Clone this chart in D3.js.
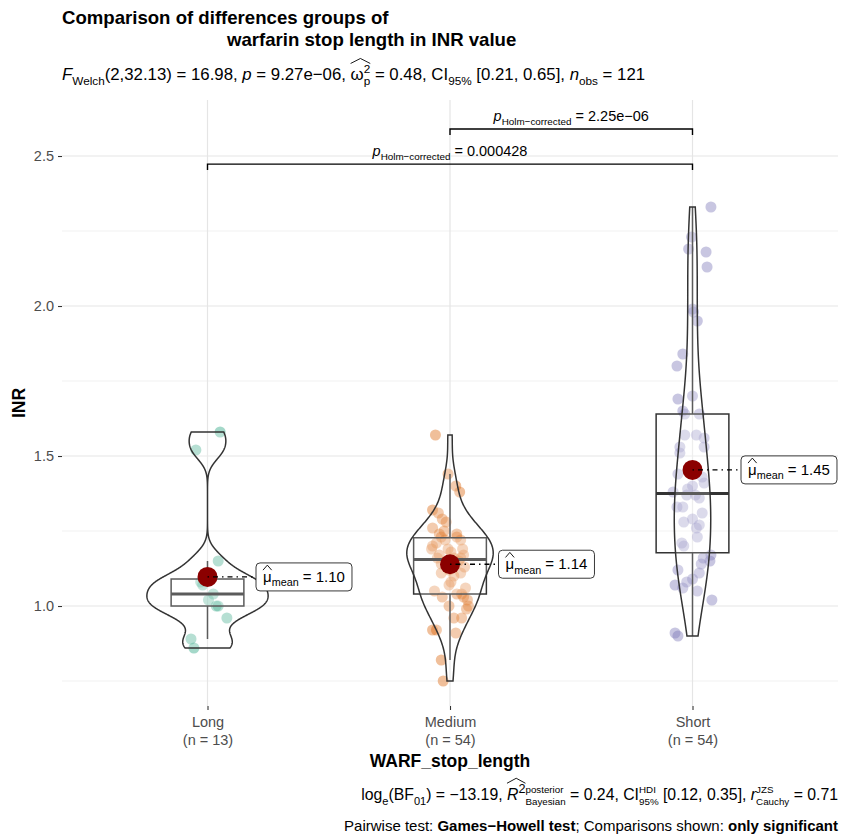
<!DOCTYPE html>
<html lang="en">
<head>
<meta charset="UTF-8">
<title>Comparison of differences groups of warfarin stop length in INR value</title>
<script src="https://d3js.org/d3.v7.min.js"></script>
<style>
  body { margin: 0; background: #fff; }
  svg text { font-family: "Liberation Sans", Arial, sans-serif; white-space: pre; }
</style>
</head>
<body>
<div id="chart"></div>
<script>
// ---- data ----
const groups = ["Long", "Medium", "Short"];
const groupN = [13, 54, 54];
const groupColors = ["#1B9E77", "#D95F02", "#7570B3"];

const inrLong = [1.58, 1.52, 1.15, 1.09, 1.08, 1.07, 1.04, 1.02, 1.00, 1.00, 0.96, 0.89, 0.86];
const jitterLong = [0.052, -0.048, 0.044, -0.008, -0.028, -0.02, 0.024, 0.004, 0.044, 0.036, 0.08, -0.068, -0.056];

const inrMedium = [1.57, 1.44, 1.40, 1.38, 1.32, 1.31, 1.29, 1.28, 1.26, 1.25, 1.24, 1.24, 1.23,
  1.23, 1.22, 1.22, 1.21, 1.20, 1.19, 1.19, 1.19, 1.18, 1.17, 1.17, 1.16, 1.16, 1.16,
  1.15, 1.15, 1.14, 1.13, 1.12, 1.11, 1.11, 1.10, 1.08, 1.07, 1.06, 1.05, 1.04,
  1.04, 1.03, 1.03, 1.02, 1.00, 1.00, 0.99, 0.96, 0.96, 0.92, 0.92, 0.91, 0.82, 0.75];
const jitterMedium = [-0.06, -0.008, 0.024, 0.04, -0.072, -0.048, -0.032, -0.016, -0.072, -0.024, 0.028, -0.044, 0.028,
  -0.036, 0.044, -0.02, -0.056, -0.072, -0.076, 0.052, -0.008, 0.004, 0.056, -0.044, -0.052, 0.044, 0.016,
  -0.012, 0.036, -0.036, 0.06, -0.004, -0.036, 0.044, 0.016, 0.004, -0.004, 0.064, -0.064, 0.028,
  0.048, -0.032, 0.056, 0.072, -0.004, 0.076, 0.068, 0.048, 0.016, -0.072, -0.056, 0.024, -0.036, -0.028];

const inrShort = [2.33, 2.23, 2.19, 2.18, 2.13, 1.99, 1.98, 1.95, 1.84, 1.80, 1.70, 1.69, 1.65,
  1.64, 1.64, 1.57, 1.57, 1.56, 1.53, 1.53, 1.51, 1.44, 1.43, 1.41, 1.40, 1.39, 1.38,
  1.37, 1.37, 1.36, 1.33, 1.33, 1.31, 1.29, 1.28, 1.27, 1.26, 1.23, 1.21, 1.20,
  1.17, 1.16, 1.15, 1.14, 1.12, 1.11, 1.09, 1.08, 1.07, 1.06, 1.05, 1.02, 0.91, 0.90];
const jitterShort = [0.076, -0.004, -0.016, 0.056, 0.06, 0, 0.004, 0.02, -0.04, -0.064, 0, -0.06, -0.04,
  0.028, -0.032, -0.032, 0.016, 0.048, -0.052, 0.048, -0.052, -0.06, 0.04, 0.048, 0, -0.02, -0.08,
  -0.024, 0.012, 0.028, -0.064, -0.04, 0.04, 0, -0.036, 0.028, 0.016, 0.02, -0.044, -0.036,
  0.076, 0.044, 0.072, 0.036, -0.06, 0.028, 0, -0.024, -0.072, -0.04, 0.02, 0.08, -0.072, -0.06];

const groupValues = [inrLong, inrMedium, inrShort];
const groupJitter = [jitterLong, jitterMedium, jitterShort];

const yTicks = [1.0, 1.5, 2.0, 2.5];
const yMinorTicks = [0.75, 1.25, 1.75, 2.25];

// pairwise comparisons (Games-Howell, Holm corrected)
const bracketFrom = ["Medium", "Long"];
const bracketTo = ["Short", "Short"];
const bracketY = [2.59, 2.473];
const bracketP = ["2.25e\u221206", "0.000428"];

// ---- layout ----
const width = 841, height = 837;
const margin = { top: 100, right: 3, bottom: 131, left: 62 };
const font = "'Liberation Sans', Arial, sans-serif";

const svg = d3.select("#chart").append("svg")
  .attr("width", width).attr("height", height)
  .style("background", "#fff");

const x = d3.scalePoint().domain(groups)
  .range([margin.left, width - margin.right]).padding(0.6);
const step = x.step();
const y = d3.scaleLinear().domain([0.6667, 2.6867])
  .range([height - margin.bottom, margin.top]);

// rich text: segments placed one after another, sub/sup shifted
function rich(parent, px, py, segs, size, anchor, fill) {
  const g = parent.append("g").attr("fill", fill || "#000");
  let cx = 0, held = 0;
  const hats = [];
  segs.forEach(s => {
    const small = s.sub || s.sup;
    const fs = size * (small ? (s.scale || 0.7) : 1);
    const dy = s.sub ? size * 0.3 : s.sup ? -size * 0.42 : 0;
    const t = g.append("text")
      .attr("x", cx).attr("y", dy)
      .attr("font-size", fs)
      .attr("font-weight", s.b ? "bold" : null)
      .attr("font-style", s.i ? "italic" : null)
      .text(s.t);
    const w = t.node().getComputedTextLength();
    if (s.hat) hats.push({ x0: cx, x1: cx + w, top: dy - fs * 0.72 });
    if (s.hold) { held = Math.max(held, w); }
    else { cx += Math.max(held, w); held = 0; }
  });
  if (hats.length) {
    const x0 = d3.min(hats, h => h.x0), x1 = d3.max(hats, h => h.x1);
    const top = d3.min(hats, h => h.top) - 2;
    g.append("path")
      .attr("d", `M${x0},${top + 1}L${(x0 + x1) / 2},${top - 4}L${x1},${top + 1}`)
      .attr("fill", "none").attr("stroke", fill || "#000").attr("stroke-width", 0.9);
  }
  const shift = anchor === "end" ? -cx : anchor === "middle" ? -cx / 2 : 0;
  g.attr("transform", `translate(${px + shift},${py})`);
  return { g, width: cx };
}

// ---- grid ----
const grid = svg.append("g");
grid.selectAll(".minor").data(yMinorTicks).join("line")
  .attr("x1", margin.left).attr("x2", width - margin.right)
  .attr("y1", d => y(d)).attr("y2", d => y(d))
  .attr("stroke", "#EDEDED").attr("stroke-width", 0.8);
grid.selectAll(".major").data(yTicks).join("line")
  .attr("x1", margin.left).attr("x2", width - margin.right)
  .attr("y1", d => y(d)).attr("y2", d => y(d))
  .attr("stroke", "#E5E5E5").attr("stroke-width", 1.2);
grid.selectAll(".vmajor").data(groups).join("line")
  .attr("x1", d => x(d)).attr("x2", d => x(d))
  .attr("y1", margin.top).attr("y2", height - margin.bottom)
  .attr("stroke", "#E5E5E5").attr("stroke-width", 1.2);

// ---- axes ----
const yAxis = svg.append("g")
  .attr("transform", `translate(${margin.left},0)`)
  .call(d3.axisLeft(y).tickValues(yTicks).tickFormat(d3.format(".1f")).tickSize(4).tickPadding(4));
yAxis.select(".domain").remove();
yAxis.selectAll(".tick line").attr("stroke", "#333").attr("stroke-width", 1.1);
yAxis.selectAll(".tick text").attr("fill", "#4D4D4D").attr("font-size", 14.5).attr("font-family", font);

const xAxis = svg.append("g")
  .attr("transform", `translate(0,${height - margin.bottom})`)
  .call(d3.axisBottom(x).tickSize(4).tickFormat(""));
xAxis.select(".domain").remove();
xAxis.selectAll(".tick line").attr("stroke", "#333").attr("stroke-width", 1.1);
xAxis.selectAll(".tick").each(function (d, i) {
  const t = d3.select(this).append("text")
    .attr("fill", "#4D4D4D").attr("font-size", 14.5).attr("font-family", font)
    .attr("text-anchor", "middle");
  t.append("tspan").attr("x", 0).attr("y", 21).text(d);
  t.append("tspan").attr("x", 0).attr("y", 39).text(`(n = ${groupN[i]})`);
});

svg.append("text")
  .attr("x", (margin.left + width - margin.right) / 2).attr("y", 767)
  .attr("text-anchor", "middle").attr("font-size", 17.5).attr("font-weight", "bold")
  .text("WARF_stop_length");

svg.append("text")
  .attr("transform", `translate(25,${(margin.top + height - margin.bottom) / 2}) rotate(-90)`)
  .attr("text-anchor", "middle").attr("font-size", 17.5).attr("font-weight", "bold")
  .text("INR");

// ---- jittered points ----
const plot = svg.append("g");
groups.forEach((grp, gi) => {
  plot.append("g").selectAll("circle")
    .data(groupValues[gi].map((v, i) => ({ v, j: groupJitter[gi][i] })))
    .join("circle")
    .attr("cx", d => x(grp) + d.j * step)
    .attr("cy", d => y(d.v))
    .attr("r", 5.5)
    .attr("fill", groupColors[gi])
    .attr("fill-opacity", 0.4);
});

// ---- boxplots ----
groups.forEach((grp, gi) => {
  const vals = groupValues[gi].slice().sort(d3.ascending);
  const q1 = d3.quantile(vals, 0.25), med = d3.quantile(vals, 0.5), q3 = d3.quantile(vals, 0.75);
  const iqr = q3 - q1;
  const lo = d3.min(vals.filter(v => v >= q1 - 1.5 * iqr));
  const hi = d3.max(vals.filter(v => v <= q3 + 1.5 * iqr));
  const cx = x(grp), hw = 0.15 * step;
  const b = plot.append("g").attr("stroke", "#333").attr("stroke-width", 1.5);
  b.append("line").attr("x1", cx).attr("x2", cx).attr("y1", y(q3)).attr("y2", y(hi));
  b.append("line").attr("x1", cx).attr("x2", cx).attr("y1", y(q1)).attr("y2", y(lo));
  b.append("rect").attr("x", cx - hw).attr("width", 2 * hw)
    .attr("y", y(q3)).attr("height", y(q1) - y(q3))
    .attr("fill", "#fff").attr("fill-opacity", 0.2);
  b.append("line").attr("x1", cx - hw).attr("x2", cx + hw)
    .attr("y1", y(med)).attr("y2", y(med)).attr("stroke-width", 3);
});

// ---- violins (gaussian kde, bw.nrd0, trimmed, scale = "area") ----
function bwNrd0(v) {
  const s = v.slice().sort(d3.ascending);
  const hi = d3.deviation(s);
  const lo = Math.min(hi, (d3.quantile(s, 0.75) - d3.quantile(s, 0.25)) / 1.34) || hi;
  return 0.9 * lo * Math.pow(s.length, -0.2);
}
const dens = groupValues.map(vals => {
  const bw = bwNrd0(vals);
  const mn = d3.min(vals), mx = d3.max(vals);
  return d3.range(512).map(k => {
    const t = mn + (mx - mn) * k / 511;
    const d = d3.mean(vals, v => Math.exp(-0.5 * ((t - v) / bw) ** 2)) / (bw * Math.sqrt(2 * Math.PI));
    return { t, d };
  });
});
const maxD = d3.max(dens, g => d3.max(g, p => p.d));
groups.forEach((grp, gi) => {
  const cx = x(grp);
  const area = d3.area()
    .y(p => y(p.t))
    .x0(p => cx - p.d / maxD * 0.25 * step)
    .x1(p => cx + p.d / maxD * 0.25 * step);
  plot.append("path").attr("d", area(dens[gi]) + "Z")
    .attr("fill", "#fff").attr("fill-opacity", 0.2)
    .attr("stroke", "#333").attr("stroke-width", 1.5);
});

// ---- means and labels ----
groups.forEach((grp, gi) => {
  const m = d3.mean(groupValues[gi]);
  const cx = x(grp), cy = y(m);
  const lx = cx + 0.2 * step;
  plot.append("circle").attr("cx", cx).attr("cy", cy).attr("r", 10).attr("fill", "#8B0000");
  plot.append("line").attr("x1", cx).attr("x2", lx).attr("y1", cy).attr("y2", cy)
    .attr("stroke", "#000").attr("stroke-width", 1.3).attr("stroke-dasharray", "1.5,4,5,4");
  const lab = rich(plot, lx + 7, cy + 5, [
    { t: "\u03BC", hat: true },
    { t: "mean", sub: true, scale: 0.72 },
    { t: " = " + m.toFixed(2) }
  ], 15, "start");
  plot.insert("rect", () => lab.g.node())
    .attr("x", lx).attr("y", cy - 14)
    .attr("width", lab.width + 14).attr("height", 28)
    .attr("rx", 4).attr("fill", "#fff").attr("stroke", "#222").attr("stroke-width", 0.9);
});

// ---- significance brackets ----
bracketFrom.forEach((f, i) => {
  const x0 = x(f), x1 = x(bracketTo[i]), by = y(bracketY[i]);
  svg.append("path")
    .attr("d", `M${x0},${by + 6}V${by}H${x1}V${by + 6}`)
    .attr("fill", "none").attr("stroke", "#000").attr("stroke-width", 1.4);
  rich(svg, (x0 + x1) / 2, by - 8, [
    { t: "p", i: true },
    { t: "Holm\u2212corrected", sub: true, scale: 0.68 },
    { t: " = " + bracketP[i] }
  ], 14.5, "middle");
});

// ---- titles ----
svg.append("text").attr("x", 62).attr("y", 24)
  .attr("font-size", 18.6).attr("font-weight", "bold")
  .text("Comparison of differences groups of");
svg.append("text").attr("x", 227).attr("y", 46)
  .attr("font-size", 18.6).attr("font-weight", "bold")
  .text("warfarin stop length in INR value");

rich(svg, 62, 80, [
  { t: "F", i: true }, { t: "Welch", sub: true },
  { t: "(2,32.13) = 16.98, " }, { t: "p", i: true }, { t: " = 9.27e\u221206, " },
  { t: "\u03C9", hat: true }, { t: "2", sup: true, hold: true, hat: true }, { t: "p", sub: true },
  { t: " = 0.48, CI" }, { t: "95%", sub: true },
  { t: " [0.21, 0.65], " }, { t: "n", i: true }, { t: "obs", sub: true }, { t: " = 121" }
], 16.8, "start");

rich(svg, 838, 800, [
  { t: "log" }, { t: "e", sub: true }, { t: "(BF" }, { t: "01", sub: true },
  { t: ") = \u221213.19, " },
  { t: "R", i: true, hat: true }, { t: "2", sup: true, scale: 0.8, hat: true },
  { t: "posterior", sup: true, scale: 0.62, hold: true }, { t: "Bayesian", sub: true, scale: 0.62 },
  { t: " = 0.24, CI" },
  { t: "HDI", sup: true, scale: 0.62, hold: true }, { t: "95%", sub: true, scale: 0.62 },
  { t: " [0.12, 0.35], " }, { t: "r", i: true },
  { t: "JZS", sup: true, scale: 0.62, hold: true }, { t: "Cauchy", sub: true, scale: 0.62 },
  { t: " = 0.71" }
], 15.8, "end");

rich(svg, 838, 831, [
  { t: "Pairwise test: " }, { t: "Games\u2212Howell test", b: true },
  { t: "; Comparisons shown: " }, { t: "only significant", b: true }
], 15, "end");
</script>
</body>
</html>
